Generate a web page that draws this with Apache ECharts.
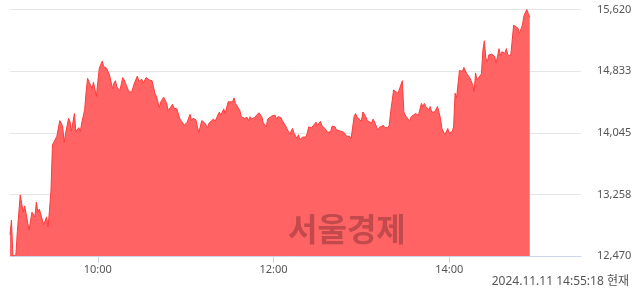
<!DOCTYPE html>
<html>
<head>
<meta charset="utf-8">
<script src="https://cdn.jsdelivr.net/npm/echarts@6/dist/echarts.min.js"></script>
<style>
html,body{margin:0;padding:0;background:#fff;}
#c{width:640px;height:294px;}
</style>
</head>
<body>
<div id="c"></div>
<script>
// minutes after 09:00 (intraday)
const minutes = [0,1,2,4,5,6,7,9,10,11,13,15,17,18,19,20,23,25,26,27,28,29,30,32,33,34,35,36,37,38,40,41,42,44,45,47,48,49,51,52,53,54,56,57,59,60,61,62,63,64,66,68,70,71,72,73,75,77,78,81,83,85,87,88,90,91,93,95,97,99,100,102,103,105,107,108,110,111,112,114,116,118,119,121,123,124,125,127,128,129,131,132,133,135,136,137,139,140,141,143,144,145,146,147,149,150,152,153,154,156,157,158,159,160,162,163,164,165,167,168,170,172,173,174,175,176,177,179,181,182,183,185,186,188,189,191,193,194,196,197,198,200,202,203,204,206,207,209,210,212,213,215,216,217,218,219,220,222,223,225,226,228,229,230,232,233,234,235,236,237,238,240,241,243,244,245,247,248,250,251,252,253,255,256,258,259,260,262,263,265,266,268,269,270,271,273,274,275,277,278,279,281,282,283,284,285,286,287,288,290,292,293,294,295,297,298,299,300,302,303,304,305,307,308,309,310,312,314,315,316,317,318,319,320,322,323,324,325,326,327,329,331,332,333,334,335,336,338,339,340,341,342,343,344,345,347,348,350,351,352,353,354,355];
const prices = [12740,12930,12470,12480,12780,12800,13250,13030,13110,13010,12800,13030,12970,13160,13030,13070,12870,12970,12840,13060,13310,13890,13910,14000,14000,14200,14170,14120,13920,14040,14230,14190,14070,14290,14060,14110,14060,14170,14340,14570,14740,14740,14610,14690,14510,14700,14870,14850,14960,14890,14870,14780,14610,14680,14710,14630,14580,14750,14720,14580,14560,14680,14770,14700,14730,14680,14750,14720,14710,14550,14510,14370,14440,14500,14420,14330,14380,14410,14360,14350,14220,14170,14140,14180,14280,14200,14230,14210,14120,14050,14200,14210,14170,14110,14170,14190,14220,14190,14200,14310,14270,14310,14350,14290,14440,14460,14440,14490,14420,14360,14330,14250,14270,14230,14240,14200,14250,14220,14240,14230,14300,14250,14170,14160,14120,14220,14200,14260,14270,14220,14250,14240,14200,14140,14130,14030,14100,14040,13970,14020,13960,13990,13990,14040,14120,14110,14130,14180,14140,14190,14140,14100,14110,14050,14030,14060,14130,14120,14080,14070,14080,14050,14070,14000,14000,13970,13950,14250,14290,14250,14260,14190,14310,14250,14200,14210,14170,14220,14140,14080,14110,14120,14140,14110,14110,14140,14310,14590,14580,14550,14530,14710,14310,14270,14290,14190,14250,14230,14290,14290,14270,14420,14380,14420,14380,14400,14340,14380,14310,14310,14380,14360,14230,14100,14020,14020,14100,14040,14060,14120,14550,14490,14840,14850,14830,14880,14800,14750,14770,14660,14570,14810,14720,14730,14800,15100,15220,15000,14950,15040,15050,15020,14940,15020,15120,15030,15080,15060,15120,15040,15060,15030,15040,15420,15430,15380,15320,15420,15540,15560,15620,15570,15520];

const xTickMinutes = [60, 180, 300];
const xTickLabels = ['10:00', '12:00', '14:00'];
const yMin = 12470, yMax = 15620;
const yTickLabels = ['12,470', '13,258', '14,045', '14,833', '15,620'];
const stamp = '2024.11.11 14:55:18 현재';
const watermark = '서울경제';

const seriesData = minutes.map((m, i) => [m, prices[i]]);
const yStep = (yMax - yMin) / (yTickLabels.length - 1);
const font = "'Noto Sans', 'Noto Sans CJK KR', sans-serif";

const chart = echarts.init(document.getElementById('c'), null, {renderer: 'canvas'});
chart.setOption({
  animation: false,
  grid: {left: 10, right: 59, top: 9.5, bottom: 38, containLabel: false},
  xAxis: {
    type: 'value', min: 0, max: 390,
    axisLine: {show: true, lineStyle: {color: '#ccd6eb', width: 1}},
    axisTick: {show: true, customValues: xTickMinutes, length: 7, lineStyle: {color: '#ccd6eb'}},
    axisLabel: {
      customValues: xTickMinutes,
      formatter: v => xTickLabels[xTickMinutes.indexOf(Math.round(v))] || '',
      color: '#555', fontSize: 11, fontFamily: font, margin: 8
    },
    splitLine: {show: false}
  },
  yAxis: {
    type: 'value', position: 'right', min: yMin, max: yMax, interval: yStep,
    axisLine: {show: false}, axisTick: {show: false},
    axisLabel: {
      formatter: v => yTickLabels[Math.round((v - yMin) / yStep)] || '',
      color: '#555', fontSize: 11, fontFamily: font, margin: 16, align: 'left'
    },
    splitLine: {show: true, lineStyle: {color: '#e6e6e6', width: 1}}
  },
  graphic: [
    {type: 'text', left: 288, top: 213, z: 100, silent: true,
     style: {text: watermark, fontSize: 32, fontWeight: 'bold', fontFamily: "'Noto Sans CJK KR', sans-serif", fill: '#c24a4c'}},
    {type: 'text', right: 11, top: 276, z: 100, silent: true,
     style: {text: stamp, fontSize: 12, fontFamily: font, fill: '#555'}}
  ],
  series: [{
    type: 'line', data: seriesData, showSymbol: false, symbol: 'none',
    lineStyle: {color: '#ff3c3c', width: 1},
    areaStyle: {color: '#ff6363', opacity: 1, origin: 'start'},
    z: 2
  }]
});
</script>
</body>
</html>
